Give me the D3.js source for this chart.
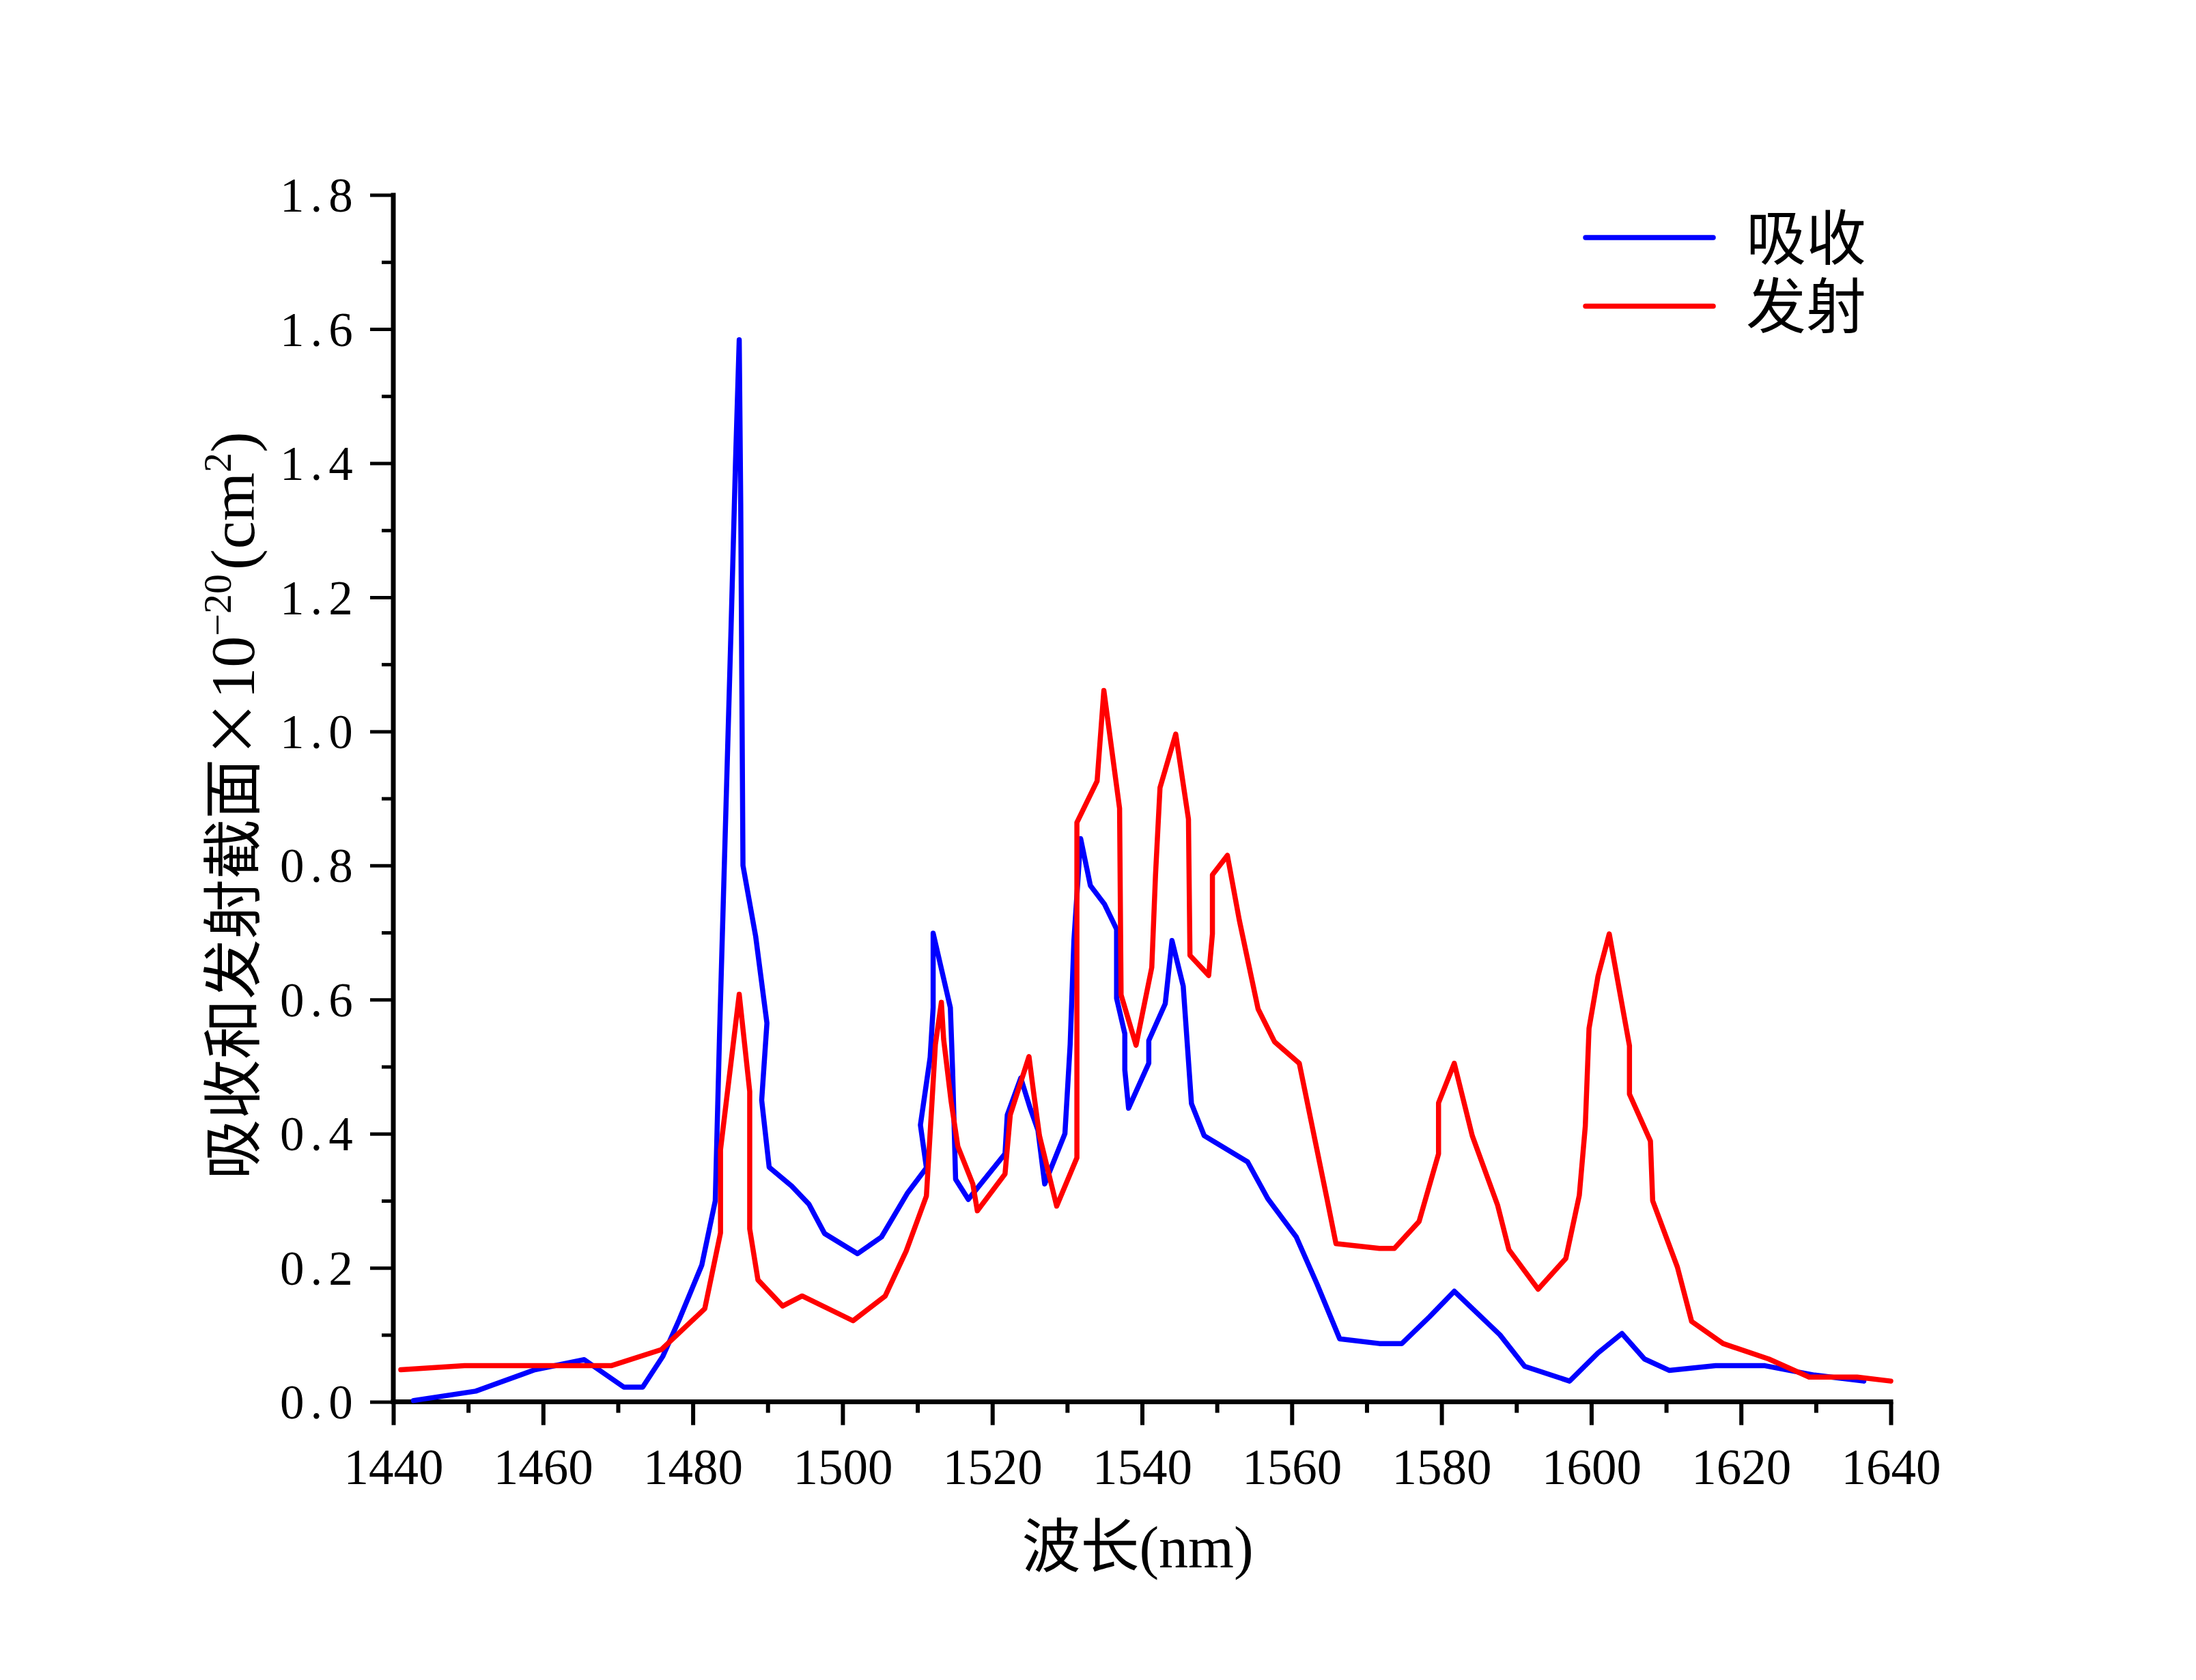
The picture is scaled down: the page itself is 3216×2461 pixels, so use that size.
<!DOCTYPE html>
<html>
<head>
<meta charset="utf-8">
<script src="https://cdn.jsdelivr.net/npm/d3@7"></script>
<style>
  html, body { margin: 0; padding: 0; background: #fff; }
  svg { display: block; }
</style>
</head>
<body>
<svg id="chart" width="3216" height="2461"></svg>
<script>
// ---------------- data ----------------
const absWavelength = [1442.7,1451.0,1458.9,1465.5,1470.8,1473.3,1476.0,1478.2,1481.2,1483.0,1483.6,1485.1,1485.7,1486.2,1486.4,1486.7,1488.4,1489.9,1489.2,1490.2,1493.2,1495.5,1497.6,1502.0,1505.2,1508.7,1511.2,1510.4,1511.7,1512.1,1512.1,1514.4,1514.7,1515.1,1516.8,1521.7,1522.0,1523.8,1525.0,1526.1,1527.0,1529.7,1530.4,1530.9,1531.8,1533.1,1535.0,1536.6,1536.6,1537.7,1537.7,1538.2,1540.9,1540.9,1543.1,1544.0,1545.5,1546.6,1548.3,1554.1,1556.8,1560.6,1563.4,1566.4,1571.7,1574.7,1578.4,1581.7,1587.8,1591.1,1597.1,1600.9,1604.1,1607.1,1610.4,1616.6,1623.2,1629.8,1636.4];
const absValues = [0.002,0.016,0.048,0.063,0.022,0.022,0.068,0.123,0.204,0.300,0.56,1.15,1.40,1.584,1.34,0.80,0.694,0.565,0.45,0.35,0.322,0.295,0.251,0.221,0.246,0.312,0.349,0.413,0.514,0.588,0.699,0.588,0.494,0.332,0.302,0.37,0.428,0.483,0.44,0.405,0.325,0.40,0.533,0.688,0.84,0.77,0.742,0.705,0.602,0.549,0.495,0.438,0.505,0.539,0.594,0.688,0.62,0.445,0.397,0.358,0.303,0.246,0.175,0.094,0.087,0.087,0.127,0.165,0.10,0.053,0.031,0.073,0.102,0.064,0.047,0.054,0.054,0.04,0.031];

const emiWavelength = [1441.0,1449.5,1469.1,1475.8,1481.6,1483.7,1483.7,1486.2,1487.6,1487.6,1488.7,1492.0,1494.6,1501.4,1505.7,1508.5,1511.2,1512.4,1513.2,1513.5,1514.5,1515.4,1517.4,1518.0,1521.7,1522.4,1524.9,1525.5,1526.3,1528.6,1531.3,1531.3,1534.0,1534.9,1537.0,1537.2,1539.2,1541.3,1541.8,1542.4,1544.5,1546.2,1546.4,1548.9,1549.4,1549.4,1551.4,1553.0,1555.5,1557.7,1561.0,1564.7,1565.9,1571.7,1573.7,1577.0,1579.6,1579.6,1581.7,1584.1,1587.5,1589.0,1592.9,1596.6,1598.4,1599.2,1599.7,1600.9,1602.4,1605.1,1605.1,1607.9,1608.2,1611.5,1613.4,1617.6,1623.7,1629.1,1635.5,1640.0];
const emiValues = [0.048,0.054,0.054,0.078,0.139,0.252,0.376,0.608,0.463,0.258,0.182,0.143,0.158,0.121,0.158,0.225,0.307,0.533,0.596,0.541,0.448,0.381,0.325,0.285,0.34,0.428,0.515,0.463,0.397,0.292,0.364,0.864,0.926,1.061,0.885,0.607,0.532,0.648,0.786,0.916,0.996,0.869,0.666,0.636,0.698,0.786,0.815,0.718,0.586,0.537,0.505,0.303,0.236,0.229,0.229,0.269,0.37,0.446,0.505,0.397,0.293,0.227,0.168,0.214,0.308,0.411,0.557,0.635,0.698,0.531,0.459,0.389,0.30,0.201,0.12,0.087,0.064,0.037,0.037,0.031];

const seriesNames = ["吸收", "发射"];
const seriesColors = ["#0000FF", "#FF0000"];
const xTickValues = [1440,1460,1480,1500,1520,1540,1560,1580,1600,1620,1640];
const yTickValues = [0.0,0.2,0.4,0.6,0.8,1.0,1.2,1.4,1.6,1.8];
const xTitle = ["波长", "(nm)"];

(function () {
// ---------------- layout ----------------
const svg = d3.select("#chart");
const mLeft = 576, mRight = 2769, mTop = 285.6, mBottom = 2053.6;
const x = d3.scaleLinear().domain([1440, 1640]).range([mLeft, mRight]);
const y = d3.scaleLinear().domain([0, 1.8]).range([mBottom, mTop]);
const serif = "'Liberation Serif', 'Times New Roman', 'Noto Sans CJK SC', serif";

// axes
const xAxis = d3.axisBottom(x).tickValues(d3.range(1440, 1641, 10)).tickSize(0).tickFormat("");
const gx = svg.append("g").attr("transform", `translate(0,${mBottom})`).call(xAxis);
gx.select(".domain").remove();
gx.selectAll(".tick").append("line")
  .attr("y1", 0).attr("y2", d => (d % 20 === 0 ? 34 : 16))
  .attr("stroke", "#000").attr("stroke-width", 6);
gx.selectAll(".tick").filter(d => xTickValues.includes(d)).append("text")
  .attr("y", 120).attr("text-anchor", "middle")
  .attr("font-family", serif).attr("font-size", 73).attr("fill", "#000")
  .text(d => d);

const yAxis = d3.axisLeft(y).tickValues(d3.range(0, 19).map(i => i / 10)).tickSize(0).tickFormat("");
const gy = svg.append("g").attr("transform", `translate(${mLeft},0)`).call(yAxis);
gy.select(".domain").remove();
gy.selectAll(".tick").append("line")
  .attr("x1", 0).attr("x2", (d, i) => (i % 2 === 0 ? -34 : -17))
  .attr("stroke", "#000").attr("stroke-width", 5);
gy.selectAll(".tick").filter((d, i) => i % 2 === 0).append("text")
  .attr("x", -166).attr("dy", "0.34em").attr("text-anchor", "start")
  .attr("font-family", serif).attr("font-size", 71).attr("letter-spacing", 9).attr("fill", "#000")
  .text(d => d3.format(".1f")(d));

// axis lines
svg.append("line").attr("x1", mLeft).attr("x2", mLeft).attr("y1", mTop - 3).attr("y2", mBottom + 3)
  .attr("stroke", "#000").attr("stroke-width", 7);
svg.append("line").attr("x1", mLeft - 3.5).attr("x2", mRight + 3.5).attr("y1", mBottom).attr("y2", mBottom)
  .attr("stroke", "#000").attr("stroke-width", 7);

// lines
const line = d3.line().x(d => x(d[0])).y(d => y(d[1]));
const absData = absWavelength.map((w, i) => [w, absValues[i]]);
const emiData = emiWavelength.map((w, i) => [w, emiValues[i]]);
[absData, emiData].forEach((data, i) => {
  svg.append("path").datum(data).attr("d", line)
    .attr("fill", "none").attr("stroke", seriesColors[i]).attr("stroke-width", 7.5)
    .attr("stroke-linejoin", "round").attr("stroke-linecap", "round");
});

// legend
const legendY = [348, 448.5];
seriesNames.forEach((name, i) => {
  svg.append("line").attr("x1", 2322).attr("x2", 2509).attr("y1", legendY[i]).attr("y2", legendY[i])
    .attr("stroke", seriesColors[i]).attr("stroke-width", 7.5).attr("stroke-linecap", "round");
  svg.append("text").attr("x", 2557).attr("y", legendY[i]).attr("dy", "0.36em")
    .attr("font-family", "'Noto Sans CJK SC', sans-serif").attr("font-size", 88).attr("fill", "#000")
    .text(name);
});

// x title
const xt = svg.append("text").attr("x", 1666).attr("y", 2296).attr("text-anchor", "middle")
  .attr("font-size", 86).attr("fill", "#000");
xt.append("tspan").attr("font-family", "'Noto Sans CJK SC', sans-serif").text(xTitle[0]);
xt.append("tspan").attr("font-family", serif).text(xTitle[1]);

// y title
const yt = svg.append("text").attr("transform", "translate(372,1180) rotate(-90)")
  .attr("text-anchor", "middle").attr("font-size", 88).attr("fill", "#000");
yt.append("tspan").attr("font-family", "'Noto Sans CJK SC', sans-serif").text("吸收和发射截面×");
yt.append("tspan").attr("font-family", serif).attr("font-size", 92).text("10");
yt.append("tspan").attr("font-family", serif).attr("font-size", 58).attr("dy", -34).text("−20");
yt.append("tspan").attr("font-family", serif).attr("font-size", 92).attr("dy", 34).attr("dx", 6).text("(cm");
yt.append("tspan").attr("font-family", serif).attr("font-size", 58).attr("dy", -34).text("2");
yt.append("tspan").attr("font-family", serif).attr("font-size", 92).attr("dy", 34).text(")");
})();
</script>
</body>
</html>
